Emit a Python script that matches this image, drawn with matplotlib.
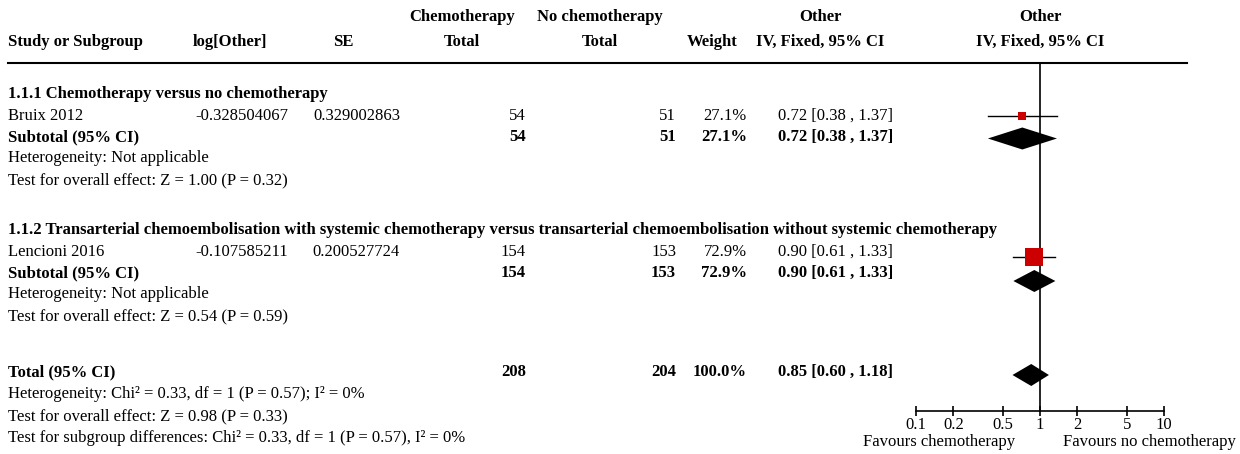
import matplotlib
matplotlib.use("Agg")
import matplotlib.pyplot as plt

plt.rcParams['font.family'] = ['Liberation Serif', 'DejaVu Serif']

# data
groups = ["1.1.1 Chemotherapy versus no chemotherapy",
          "1.1.2 Transarterial chemoembolisation with systemic chemotherapy versus transarterial chemoembolisation without systemic chemotherapy"]
studies = ["Bruix 2012", "Lencioni 2016"]
log_or = ["-0.328504067", "-0.107585211"]
se = ["0.329002863", "0.200527724"]
chemo_n = [54, 154]
nochemo_n = [51, 153]
weights = [27.1, 72.9]
est = [0.72, 0.90]
ci_lo = [0.38, 0.61]
ci_hi = [1.37, 1.33]
het_sub = ["Heterogeneity: Not applicable", "Heterogeneity: Not applicable"]
test_sub = ["Test for overall effect: Z = 1.00 (P = 0.32)", "Test for overall effect: Z = 0.54 (P = 0.59)"]
total_n = (208, 204)
total_est, total_lo, total_hi = 0.85, 0.60, 1.18
total_notes = ["Heterogeneity: Chi\u00b2 = 0.33, df = 1 (P = 0.57); I\u00b2 = 0%",
               "Test for overall effect: Z = 0.98 (P = 0.33)",
               "Test for subgroup differences: Chi\u00b2 = 0.33, df = 1 (P = 0.57), I\u00b2 = 0%"]
ticks = [0.1, 0.2, 0.5, 1, 2, 5, 10]
tick_labels = ["0.1", "0.2", "0.5", "1", "2", "5", "10"]

W, H = 1240, 454
fig = plt.figure(figsize=(W / 100, H / 100), dpi=100)
ax = fig.add_axes([0, 0, 1, 1])
ax.set_xlim(0, W)
ax.set_ylim(H, 0)
ax.axis("off")

fs = 12
red = "#cc0000"


def txt(x, y, s, ha="left", bold=False):
    ax.text(x, y, s, ha=ha, va="center", fontsize=fs,
            fontweight="bold" if bold else "normal", color="black")


# header
txt(8, 42, "Study or Subgroup", bold=True)
txt(230, 42, "log[Other]", ha="center", bold=True)
txt(343, 42, "SE", ha="center", bold=True)
txt(462, 17, "Chemotherapy", ha="center", bold=True)
txt(462, 42, "Total", ha="center", bold=True)
txt(600, 17, "No chemotherapy", ha="center", bold=True)
txt(600, 42, "Total", ha="center", bold=True)
txt(712, 42, "Weight", ha="center", bold=True)
txt(820, 17, "Other", ha="center", bold=True)
txt(820, 42, "IV, Fixed, 95% CI", ha="center", bold=True)
txt(1040, 17, "Other", ha="center", bold=True)
txt(1040, 42, "IV, Fixed, 95% CI", ha="center", bold=True)
ax.plot([8, 1187], [63, 63], color="black", lw=1.5)

# forest axes, log scale, y in the same pixel rows
ax_top, ax_bot = 63, 411
fx0, fx1 = 916, 1164
fax = fig.add_axes([fx0 / W, 1 - ax_bot / H, (fx1 - fx0) / W, (ax_bot - ax_top) / H])
fax.set_xscale("log")
fax.set_xlim(0.1, 10)
fax.set_ylim(ax_bot, ax_top)
fax.patch.set_alpha(0)
for s in ["top", "left", "right"]:
    fax.spines[s].set_visible(False)
fax.spines["bottom"].set_linewidth(1.2)
fax.set_yticks([])
fax.set_xticks(ticks)
fax.set_xticklabels(tick_labels)
fax.minorticks_off()
fax.tick_params(axis="x", direction="inout", length=7, width=1.2, labelsize=fs, pad=1)
fax.axvline(1, color="black", lw=1.2)


def diamond(y, c, lo, hi, h=11):
    fax.fill([lo, c, hi, c], [y, y - h, y, y + h], color="black", lw=0)


row_h = 21.5
group_y = [94, 230]
mark_shift = [(0, 1.5), (5, 8)]   # markers sit a little lower than text rows
msize = [6, 12.5]
for i in range(2):
    y = group_y[i]
    txt(8, y, groups[i], bold=True)
    ys = y + row_h
    txt(8, ys, studies[i])
    txt(288, ys, log_or[i], ha="right")
    txt(400, ys, se[i], ha="right")
    txt(526, ys, str(chemo_n[i]), ha="right")
    txt(676, ys, str(nochemo_n[i]), ha="right")
    txt(747, ys, "%.1f%%" % weights[i], ha="right")
    txt(778, ys, "%.2f [%.2f , %.2f]" % (est[i], ci_lo[i], ci_hi[i]))
    ym = ys + mark_shift[i][0]
    fax.plot([ci_lo[i], ci_hi[i]], [ym, ym], color="black", lw=1)
    fax.plot([est[i]], [ym], marker="s", ms=msize[i], color=red, mec=red, mew=0)
    ysub = ys + row_h
    txt(8, ysub, "Subtotal (95% CI)", bold=True)
    txt(526, ysub, str(chemo_n[i]), ha="right", bold=True)
    txt(676, ysub, str(nochemo_n[i]), ha="right", bold=True)
    txt(747, ysub, "%.1f%%" % weights[i], ha="right", bold=True)
    txt(778, ysub, "%.2f [%.2f , %.2f]" % (est[i], ci_lo[i], ci_hi[i]), bold=True)
    diamond(ysub + mark_shift[i][1], est[i], ci_lo[i], ci_hi[i])
    txt(8, ysub + row_h, het_sub[i])
    txt(8, ysub + 2 * row_h, test_sub[i])

yt = 372
txt(8, yt, "Total (95% CI)", bold=True)
txt(526, yt, str(total_n[0]), ha="right", bold=True)
txt(676, yt, str(total_n[1]), ha="right", bold=True)
txt(747, yt, "%.1f%%" % sum(weights), ha="right", bold=True)
txt(778, yt, "%.2f [%.2f , %.2f]" % (total_est, total_lo, total_hi), bold=True)
diamond(yt + 3, total_est, total_lo, total_hi)
for k, note in enumerate(total_notes):
    txt(8, yt + (k + 1) * 22, note)

txt(1015, 442, "Favours chemotherapy", ha="right")
txt(1063, 442, "Favours no chemotherapy")

fig.savefig("out.png", dpi=100)
